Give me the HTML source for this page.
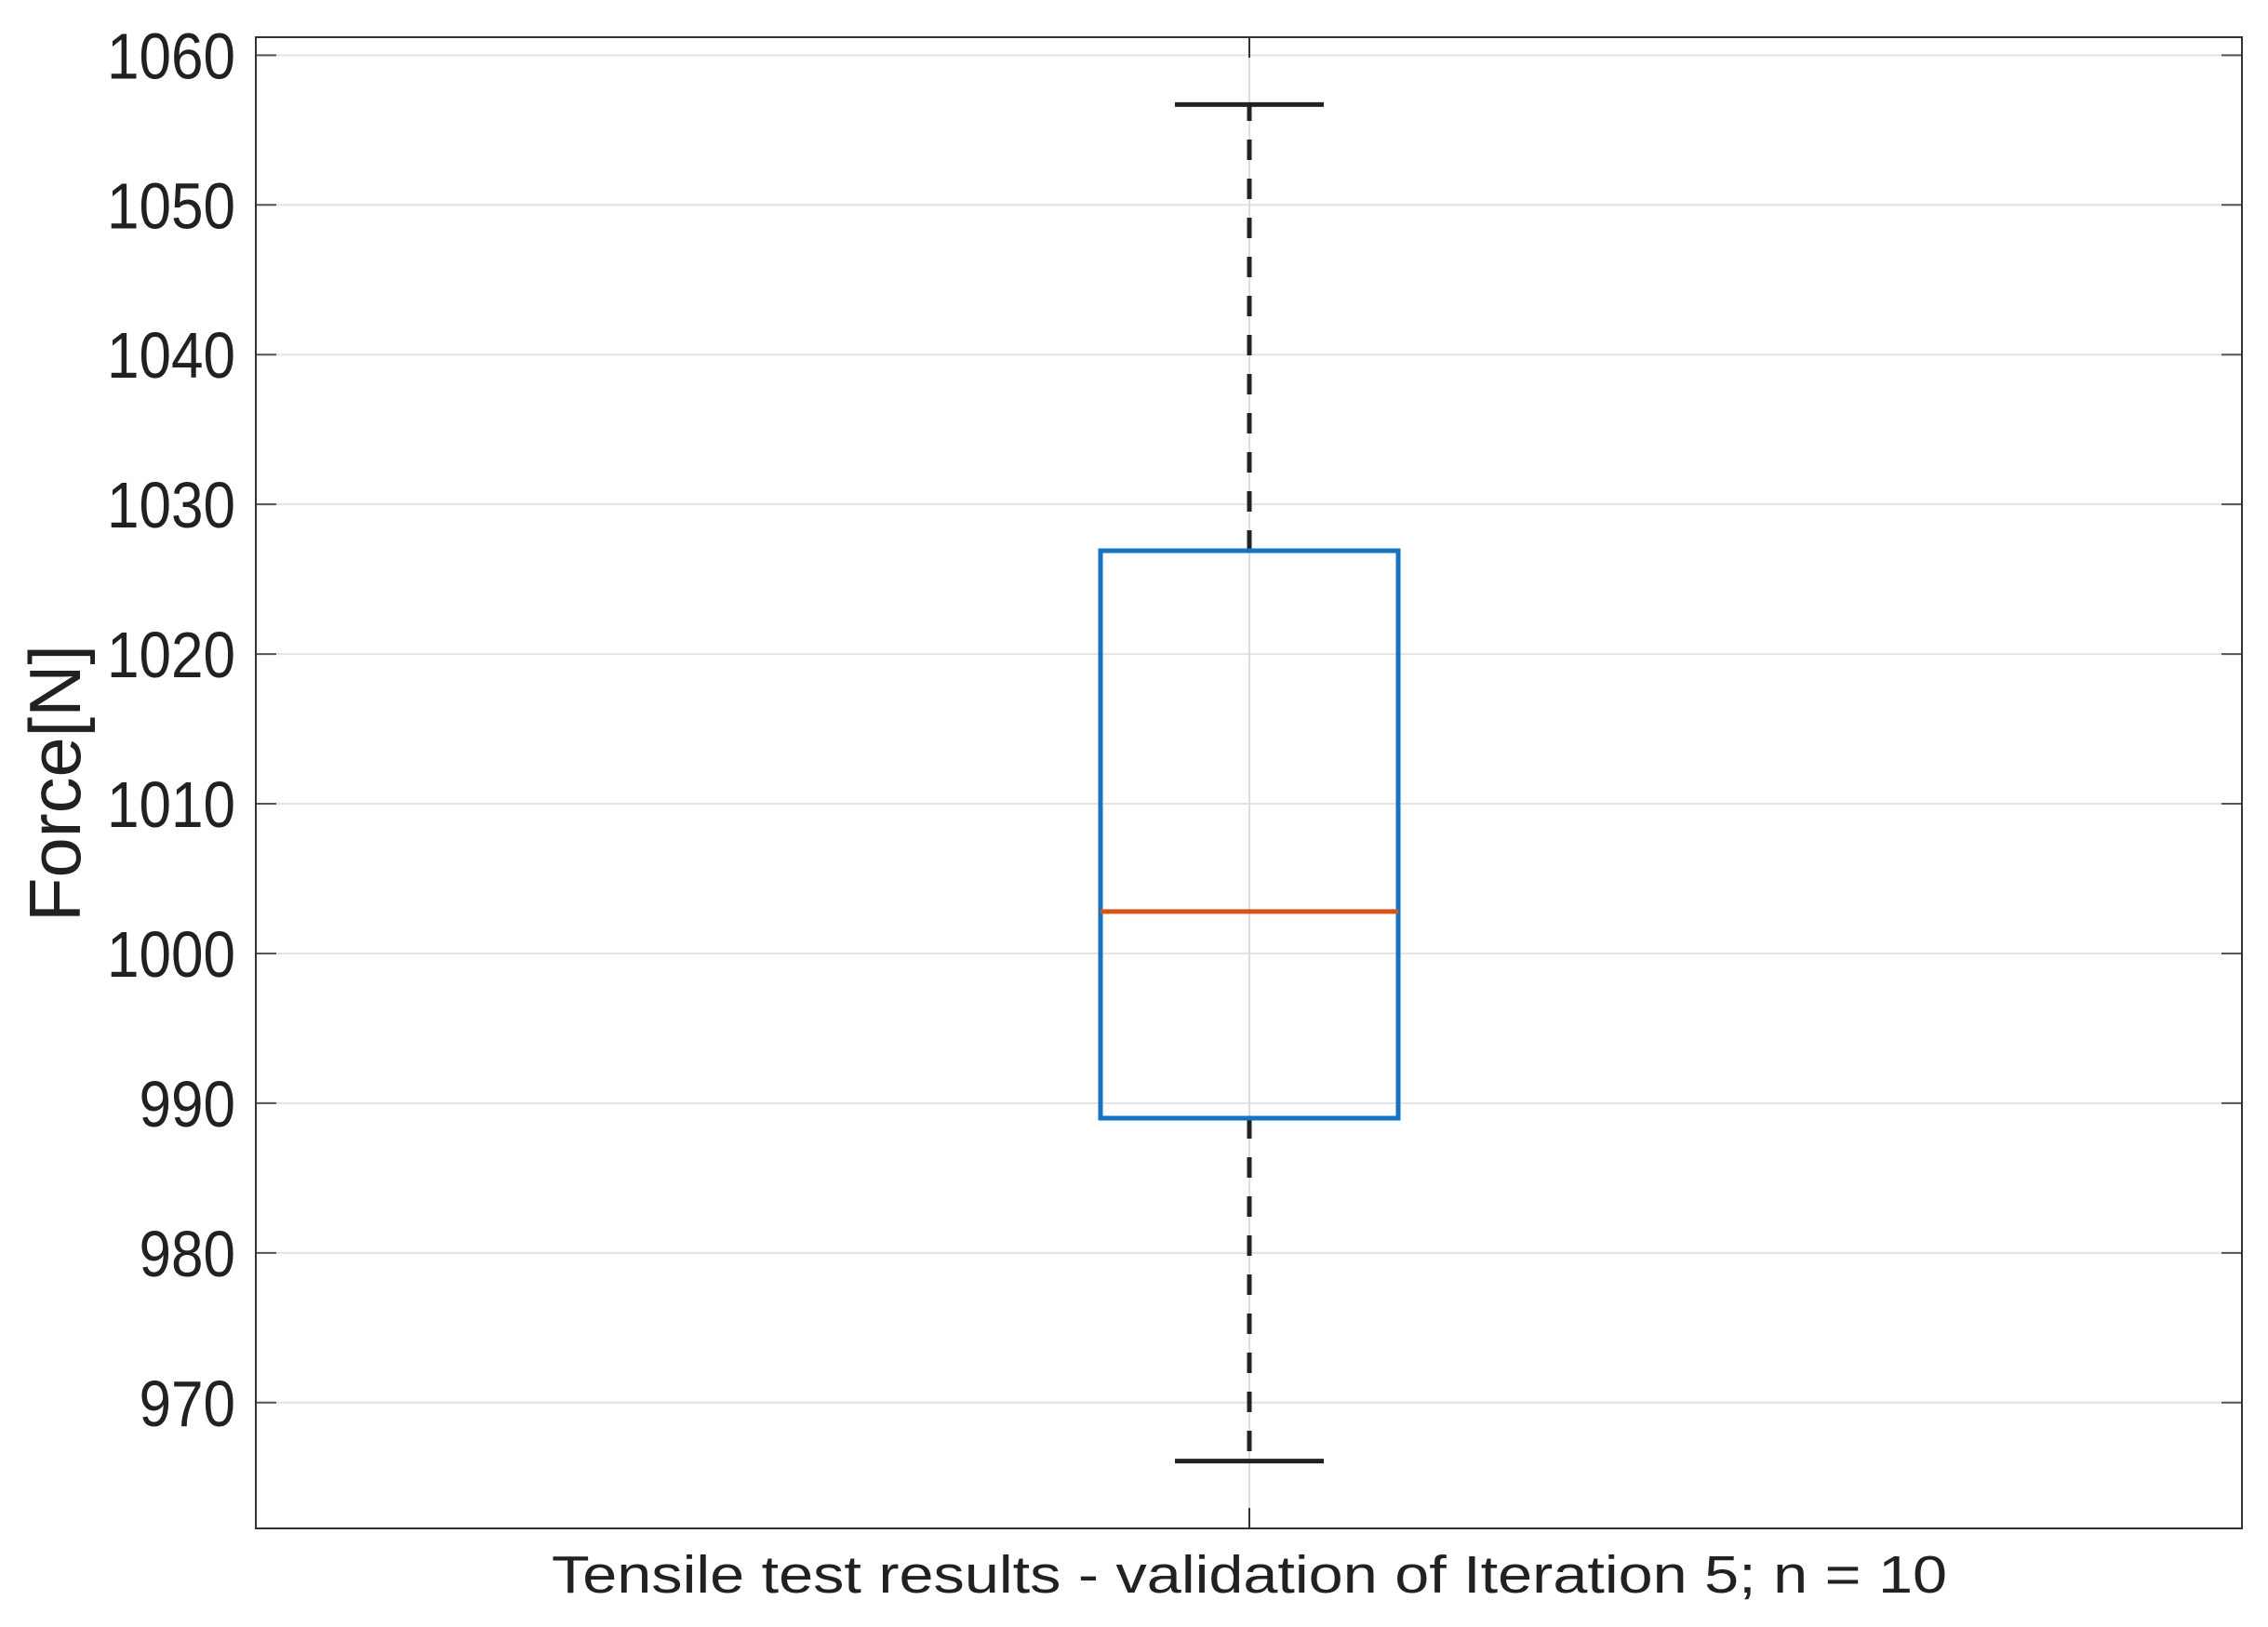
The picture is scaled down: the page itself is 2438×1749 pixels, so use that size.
<!DOCTYPE html>
<html><head><meta charset="utf-8"><style>
html,body{margin:0;padding:0;background:#fff}
svg{display:block}
text{font-family:"Liberation Sans",Arial,sans-serif;fill:#212121}
</style></head><body>
<svg id="chart" width="2438" height="1749" viewBox="0 0 2438 1749" xmlns="http://www.w3.org/2000/svg">
<rect width="2438" height="1749" fill="#fff"/>
<g id="grid"></g>
<g id="plot"></g>
<g id="axes"></g>
</svg>
<script>
const yTicks = [970, 980, 990, 1000, 1010, 1020, 1030, 1040, 1050, 1060];
const category = ["Tensile test results - validation of Iteration 5; n = 10"];
const whiskerLow = [966.1];
const q1 = [989.0];
const median = [1002.8];
const q3 = [1026.9];
const whiskerHigh = [1056.7];

const L=275, R=2410, T=40, B=1643;
const yMin=961.6, yMax=1061.2;
const y = v => B - (v - yMin) / (yMax - yMin) * (B - T);
const xCenter = (L + R) / 2 + 0.5;
const NS="http://www.w3.org/2000/svg";
function mk(tag, attrs, parent){const e=document.createElementNS(NS,tag);for(const k in attrs)e.setAttribute(k,attrs[k]);parent.appendChild(e);return e;}
const grid=document.getElementById('grid'), plot=document.getElementById('plot'), axes=document.getElementById('axes');

yTicks.forEach(t=>{
  const g=mk('line',{x1:L,x2:R,y1:y(t),y2:y(t),stroke:'#e3e3e3','stroke-width':2},grid);
  
  
  mk('line',{x1:L,x2:L+22,y1:y(t),y2:y(t),stroke:'#555','stroke-width':2},axes);
  mk('line',{x1:R-22,x2:R,y1:y(t),y2:y(t),stroke:'#555','stroke-width':2},axes);
  const s=String(t);
  const lb=mk('text',{x:253,y:y(t)+25,'text-anchor':'end','font-size':70,textLength:s.length*34.5,lengthAdjust:'spacingAndGlyphs'},axes);
  lb.textContent=s;
  
  
});
const vg=mk('line',{x1:xCenter,x2:xCenter,y1:T,y2:B,stroke:'#dcdcdc','stroke-width':2},grid);


mk('line',{x1:xCenter,x2:xCenter,y1:T,y2:T+22,stroke:'#333','stroke-width':2},axes);
mk('line',{x1:xCenter,x2:xCenter,y1:B-22,y2:B,stroke:'#333','stroke-width':2},axes);

const halfBox=160, halfCap=80;
category.forEach((c,i)=>{
  const w1=mk('line',{x1:xCenter,x2:xCenter,y1:y(q3[i]),y2:y(whiskerHigh[i]),stroke:'#222','stroke-width':5,'stroke-dasharray':'22 20'},plot);
  
  
  const w2=mk('line',{x1:xCenter,x2:xCenter,y1:y(q1[i]),y2:y(whiskerLow[i]),stroke:'#222','stroke-width':5,'stroke-dasharray':'22 20'},plot);
  
  
  const c1=mk('line',{x1:xCenter-halfCap,x2:xCenter+halfCap,y1:y(whiskerHigh[i]),y2:y(whiskerHigh[i]),stroke:'#222','stroke-width':5},plot);
  
  
  const c2=mk('line',{x1:xCenter-halfCap,x2:xCenter+halfCap,y1:y(whiskerLow[i]),y2:y(whiskerLow[i]),stroke:'#222','stroke-width':5},plot);
  
  
  const bx=mk('rect',{x:xCenter-halfBox,y:y(q3[i]),width:2*halfBox,height:y(q1[i])-y(q3[i]),fill:'none',stroke:'#1872c2','stroke-width':5},plot);
  
  
  const md=mk('line',{x1:xCenter-halfBox,x2:xCenter+halfBox,y1:y(median[i]),y2:y(median[i]),stroke:'#d95319','stroke-width':5},plot);
  
  
  const xl=mk('text',{x:xCenter,y:1712,'text-anchor':'middle','font-size':57,textLength:1500,lengthAdjust:'spacingAndGlyphs'},axes);
  xl.textContent=c;
  
  
});
const fr=mk('rect',{x:L,y:T,width:R-L,height:B-T,fill:'none',stroke:'#333','stroke-width':2},axes);


const yl=mk('text',{x:0,y:0,'text-anchor':'middle','font-size':78,transform:'translate(86,842) rotate(-90)',textLength:298,lengthAdjust:'spacingAndGlyphs'},axes);
yl.textContent='Force[N]';


</script>
</body></html>
